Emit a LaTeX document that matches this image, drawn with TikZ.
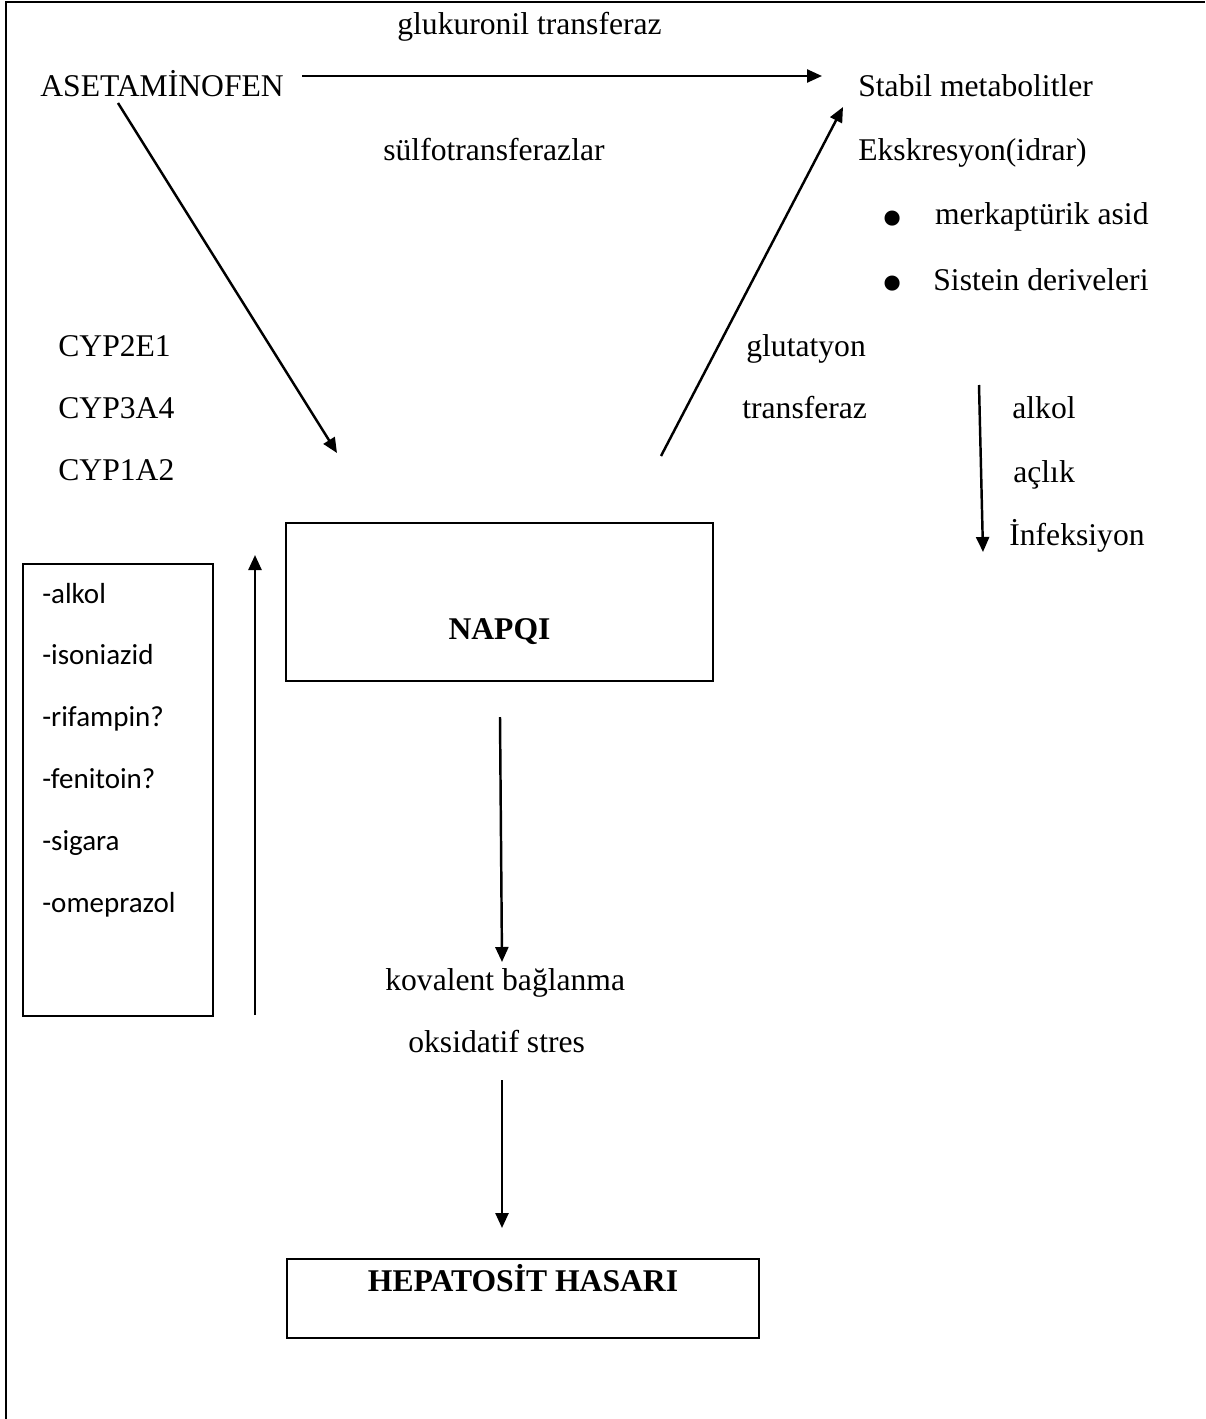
\documentclass[tikz,border=0pt]{standalone}
\usepackage{fontspec}
\setmainfont{Liberation Serif}
\newfontfamily\calibri{Carlito}
\usetikzlibrary{positioning,arrows.meta}

\newcommand{\bigbullet}{\raisebox{-8pt}{\scalebox{2}{•}}}

\tikzset{
  lbl/.style={inner sep=0pt, anchor=base west, font=\fontsize{18}{22}\selectfont},
  drug/.style={inner sep=0pt, anchor=base west, font=\calibri\fontsize{16.5}{20}\selectfont},
  box/.style={draw, line width=1.2pt, inner sep=0pt, font=\bfseries\fontsize{18}{22}\selectfont},
  arr/.style={-{Triangle[length=0.3cm, width=0.26cm]}, line width=1.4pt}
}

\begin{document}
\begin{tikzpicture}[x=0.02cm, y=-0.02cm]
\useasboundingbox (0,0) rectangle (1205,1419);
\draw[line width=1.6pt] (6,1419) -- (6,2) -- (1205,2);

% top row
\node[lbl] (glukuronil) at (397,35) {glukuronil transferaz};
\node[lbl] (aset) at (40,97) {ASETAMİNOFEN};
\node[lbl] (stabil) at (858,97) {Stabil metabolitler};
\node[lbl] (sulfo) at (383,161) {sülfotransferazlar};
\node[lbl] (ekskresyon) at (858,161) {Ekskresyon(idrar)};
\node[lbl] (merk) at (881,225) {\bigbullet\hspace{18pt}merkaptürik asid};
\node[lbl] (sistein) at (881,290) {\bigbullet\hspace{17pt}Sistein deriveleri};

% enzymes
\node[lbl] (cyp2e1) at (58,356) {CYP2E1};
\node[lbl, below=1.25cm of cyp2e1.base west, anchor=base west] (cyp3a4) {CYP3A4};
\node[lbl, below=1.25cm of cyp3a4.base west, anchor=base west] (cyp1a2) {CYP1A2};
\node[lbl] (glut) at (746,356) {glutatyon};
\node[lbl] (transf) at (742,418) {transferaz};
\node[lbl] (alkol) at (1012,418) {alkol};
\node[lbl] (aclik) at (1013,482) {açlık};
\node[lbl] (infek) at (1009,545) {İnfeksiyon};

% boxes
\node[box, anchor=north west, minimum width=8.54cm, text height=2.32cm, text depth=0.84cm] (napqi) at (285,522) {NAPQI};
\node[box, anchor=north west, minimum width=9.44cm, text height=0.64cm, text depth=0.94cm] (hepato) at (286,1258) {HEPATOSİT HASARI};
\node[draw, line width=1.2pt, anchor=north west, minimum width=3.8cm, minimum height=9.04cm] (drugbox) at (22,563) {};

\node[drug] (d1) at (42,603) {-alkol};
\node[drug, below=1.24cm of d1.base west, anchor=base west] (d2) {-isoniazid};
\node[drug, below=1.24cm of d2.base west, anchor=base west] (d3) {-rifampin?};
\node[drug, below=1.24cm of d3.base west, anchor=base west] (d4) {-fenitoin?};
\node[drug, below=1.24cm of d4.base west, anchor=base west] (d5) {-sigara};
\node[drug, below=1.24cm of d5.base west, anchor=base west] (d6) {-omeprazol};

\node[lbl] (kovalent) at (385,990) {kovalent bağlanma};
\node[lbl] (oksidatif) at (408,1052) {oksidatif stres};

% arrow ends
\coordinate (conjStart) at (302,76);
\coordinate (conjEnd) at (822,76);
\coordinate (oxStart) at (118,103);
\coordinate (oxEnd) at (337,453);
\coordinate (gshStart) at (661,456);
\coordinate (gshEnd) at (843,107);
\coordinate (indStart) at (255,1015);
\coordinate (indEnd) at (255,555);
\coordinate (depStart) at (979,385);
\coordinate (depEnd) at (983,552);
\coordinate (bindStart) at (500,717);
\coordinate (bindEnd) at (502,962);
\coordinate (dmgStart) at (502,1080);
\coordinate (dmgEnd) at (502,1228);

\draw[arr] (conjStart) -- (conjEnd);
\draw[arr] (oxStart) -- (oxEnd);
\draw[arr] (gshStart) -- (gshEnd);
\draw[arr] (indStart) -- (indEnd);
\draw[arr] (depStart) -- (depEnd);
\draw[arr] (bindStart) -- (bindEnd);
\draw[arr] (dmgStart) -- (dmgEnd);
\end{tikzpicture}
\end{document}
